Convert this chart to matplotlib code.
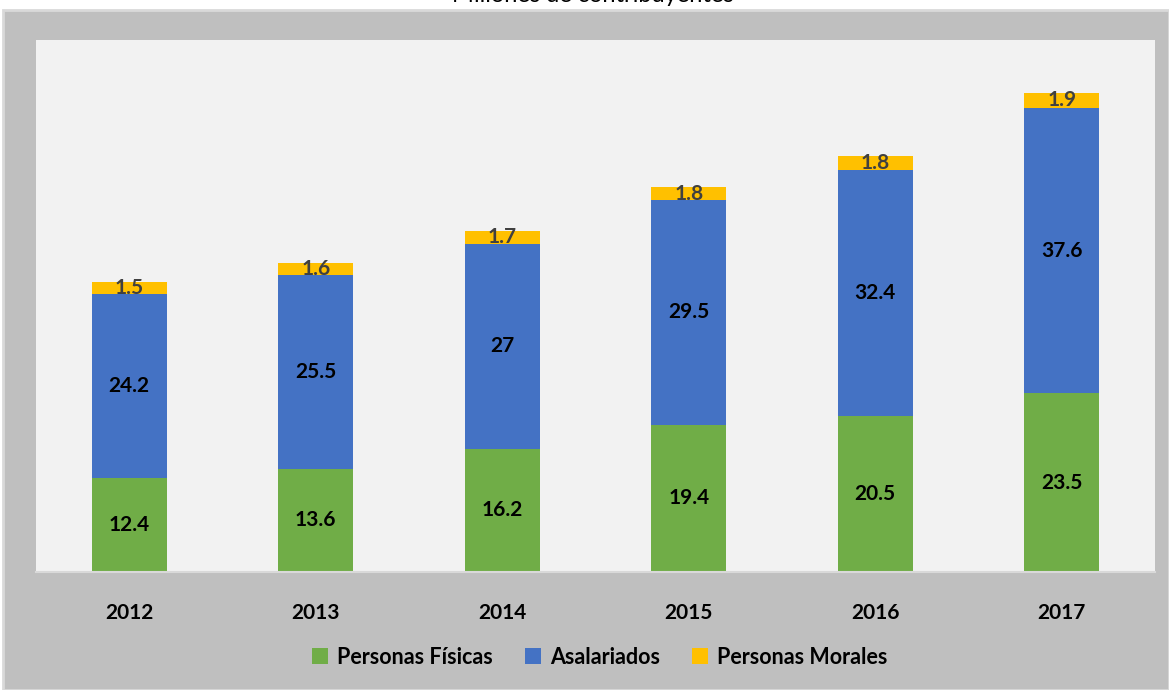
import matplotlib.pyplot as plt
from matplotlib.patches import Rectangle
import numpy as np

plt.rcParams['font.family'] = ['Lato', 'DejaVu Sans']

years = ['2012', '2013', '2014', '2015', '2016', '2017']
fisicas = [12.4, 13.6, 16.2, 19.4, 20.5, 23.5]
asalariados = [24.2, 25.5, 27, 29.5, 32.4, 37.6]
morales = [1.5, 1.6, 1.7, 1.8, 1.8, 1.9]
series_names = ['Personas Físicas', 'Asalariados', 'Personas Morales']
colors = ['#70ad47', '#4472c4', '#ffc000']


def drawing_graph():
    fig = plt.figure(figsize=(11.69, 6.9), dpi=100)
    fig.patch.set_facecolor('white')
    fig.patches.append(Rectangle((3 / 1169, 0), 1 - 3 / 1169, 1 - 10 / 690,
                                 transform=fig.transFigure, facecolor='#bfbfbf',
                                 edgecolor='#d9d9d9', linewidth=2, zorder=-5))
    fig.text(0.507, 1.006, 'Millones de contribuyentes', ha='center', va='center',
             fontsize=17, color='black')

    ax = fig.add_axes([36 / 1169, 1 - 572 / 690, (1155 - 36) / 1169, (572 - 40) / 690])
    ax.set_facecolor('#f2f2f2')
    x = np.arange(len(years))
    width = 0.4

    bottom = np.zeros(len(years))
    for vals, name, color in zip([fisicas, asalariados, morales], series_names, colors):
        bars = ax.bar(x, vals, width, bottom=bottom, color=color, label=name, zorder=2)
        txt_color = '#404040' if name == 'Personas Morales' else 'black'
        for b, v, bt in zip(bars, vals, bottom):
            label = f'{v:g}'
            ax.text(b.get_x() + b.get_width() / 2, bt + v / 2, label, ha='center', va='center',
                    fontsize=15, fontweight='bold', color=txt_color, zorder=3)
        bottom = bottom + np.array(vals)

    ax.set_xlim(-0.5, len(years) - 0.5)
    ax.set_ylim(0, 70)
    ax.set_yticks([])
    ax.set_xticks(x)
    ax.set_xticklabels(years, fontsize=15, fontweight='bold')
    ax.tick_params(axis='x', length=0, pad=22)
    for s in ['top', 'right', 'left']:
        ax.spines[s].set_visible(False)
    ax.spines['bottom'].set_color('#d9d9d9')
    ax.spines['bottom'].set_linewidth(1.5)

    fig.legend(loc='center', bbox_to_anchor=(0.513, 1 - 657 / 690), ncol=3,
               frameon=False, handlelength=0.75, handleheight=0.75,
               columnspacing=1.5, handletextpad=0.4,
               prop={'family': 'Lato', 'size': 15.5, 'weight': 'bold'})

    plt.savefig('out.png', dpi=100)


drawing_graph()
